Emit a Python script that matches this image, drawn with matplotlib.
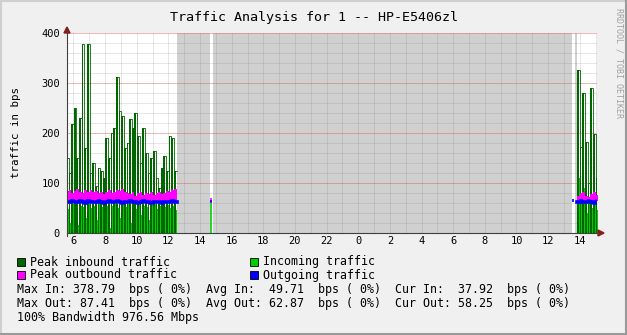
import numpy as np
import matplotlib

matplotlib.use("Agg")
import matplotlib.pyplot as plt
from matplotlib.patches import Polygon, Rectangle

W, H = 627, 335
step = 1 / 6  # 10 minute samples, x axis in hours since midnight of day 1

# first block of samples (day 1, morning)
left_start = 5.52
peak_in_left = [150, 120, 218, 250, 150, 230, 378, 170, 379, 120, 140, 95, 130, 125,
                110, 190, 150, 200, 210, 312, 245, 235, 170, 180, 228, 210, 240, 195,
                140, 210, 160, 120, 150, 165, 110, 90, 130, 155, 125, 195, 190, 125]
incoming_left = [48, 20, 58, 54, 15, 55, 52, 30, 58, 50, 54, 25, 60, 52, 40, 55, 10,
                 54, 58, 50, 30, 56, 52, 58, 20, 54, 48, 56, 35, 54, 52, 25, 56, 58,
                 48, 54, 30, 52, 56, 50, 54, 46]
peak_out_left = [84, 87, 80, 85, 88, 83, 80, 86, 83, 87, 82, 85, 80, 83, 78, 83, 86,
                 80, 83, 87, 85, 88, 82, 80, 78, 83, 74, 80, 83, 76, 80, 78, 83, 76,
                 80, 83, 78, 80, 85, 83, 87, 88]
outgoing_left = [63, 62, 64, 63, 62, 64, 63, 61, 64, 63, 62, 63, 64, 62, 60, 63, 64,
                 62, 63, 64, 62, 60, 62, 63, 64, 62, 63, 61, 62, 64, 63, 62, 60, 62,
                 63, 62, 61, 63, 62, 63, 64, 62]

# lone samples inside the unknown stretch
spot_times = [14.63, 37.51]
spot_incoming = [60, 0]
spot_peak_out = [70, 66]
spot_outgoing = [63, 66]

# last block (day 2, afternoon)
right_start = 37.83
peak_in_right = [326, 172, 280, 182, 100, 290, 198, 110]
incoming_right = [110, 60, 90, 40, 70, 50, 80, 45]
peak_out_right = [74, 80, 82, 75, 72, 78, 82, 76]
outgoing_right = [62, 64, 63, 62, 64, 63, 60, 64]

tick_hours = list(range(6, 39, 2))

c_peak_in = "#006600"
c_in = "#00cc00"
c_peak_out = "#ff00ff"
c_out = "#0000ff"
mono = "DejaVu Sans Mono"


def px(x, y):
    return (x / W, 1 - y / H)


fig = plt.figure(figsize=(W / 100, H / 100), dpi=100, facecolor="#f0f0f0")
ax = fig.add_axes([67 / W, 1 - 233 / H, 530 / W, 200 / H])
ax.set_facecolor("white")
ax.set_xlim(5.59, 39.09)
ax.set_ylim(0, 400)


def draw_block(t0, pin, inc, pout, out):
    t = t0 + step * np.arange(len(pin) + 1)
    ext = lambda a: np.append(a, a[-1])
    ax.fill_between(t, 0, ext(inc), step="post", color=c_in, lw=0, zorder=2)
    ax.bar(t[:-1], pin, width=step * 0.65, align="edge", color=c_peak_in, lw=0, zorder=3)
    ax.step(t, ext(pin), where="post", color=c_peak_in, lw=0.6, zorder=3)
    ax.fill_between(t, ext(out), ext(pout), step="post", color=c_peak_out, lw=0, zorder=4)
    ax.step(t, ext(out), where="post", color=c_out, lw=2.6, zorder=5)


draw_block(left_start, peak_in_left, incoming_left, peak_out_left, outgoing_left)
draw_block(right_start, peak_in_right, incoming_right, peak_out_right, outgoing_right)

# lone samples show as thin strokes only
for i, ts in enumerate(spot_times):
    tc = ts + step / 2
    if spot_incoming[i] > 0:
        ax.vlines(tc, 0, spot_incoming[i], color=c_in, lw=1.2, zorder=2)
    ax.vlines(tc, spot_outgoing[i], spot_peak_out[i], color=c_peak_out, lw=1.2, zorder=4)
    ax.vlines(tc, spot_outgoing[i] - 3, spot_outgoing[i] + 3, color=c_out, lw=1.2, zorder=5)

# unknown data shaded grey, taken from the gaps between the blocks
left_end = left_start + step * len(peak_in_left)
gaps = [(left_end, spot_times[0]),
        (spot_times[0] + step, spot_times[1]),
        (spot_times[1] + step, right_start)]
for a, b in gaps:
    ax.axvspan(a, b, color="#d0d0d0", lw=0, zorder=0.5)

# grid
for h in range(6, 40):
    ax.axvline(h, color=(0.4, 0.4, 0.4, 0.16), lw=0.7, zorder=1)
for v in range(20, 401, 20):
    if v % 100:
        ax.axhline(v, color=(0.4, 0.4, 0.4, 0.16), lw=0.7, zorder=1)
    else:
        ax.axhline(v, color=(0.85, 0.3, 0.3, 0.4), lw=0.7, zorder=1)

for s in ax.spines.values():
    s.set_visible(False)
ax.set_xticks(tick_hours)
ax.set_xticklabels([str(h % 24) for h in tick_hours], fontfamily=mono, fontsize=7.5)
ax.set_yticks([0, 100, 200, 300, 400])
ax.set_yticklabels(["0", "100", "200", "300", "400"], fontfamily=mono, fontsize=7.5)
ax.tick_params(length=0)
ax.tick_params(axis="y", pad=5)
ax.tick_params(axis="x", pad=2.5)

# axis lines with arrows
fig.add_artist(plt.Line2D([67 / W, 598 / W], [1 - 233 / H] * 2, color="#404040", lw=0.8))
fig.add_artist(plt.Line2D([67 / W] * 2, [1 - 236 / H, 1 - 29 / H], color="#404040", lw=0.8))
fig.add_artist(Polygon([px(598, 230), px(604, 233), px(598, 236)], closed=True,
                       transform=fig.transFigure, color="#8b1a1a"))
fig.add_artist(Polygon([px(64, 33), px(67, 27), px(70, 33)], closed=True,
                       transform=fig.transFigure, color="#8b1a1a"))

# frame
fig.add_artist(plt.Line2D([0, 1], [1 - 0.5 / H] * 2, color="#cfcfcf", lw=1.5))
fig.add_artist(plt.Line2D([0.5 / W] * 2, [0, 1], color="#cfcfcf", lw=1.5))
fig.add_artist(plt.Line2D([0, 1], [1 / H] * 2, color="#9a9a9a", lw=1.5))
fig.add_artist(plt.Line2D([1 - 1 / W] * 2, [0, 1], color="#9a9a9a", lw=1.5))

fig.text(*px(314, 17), "Traffic Analysis for 1 -- HP-E5406zl", ha="center", va="center",
         fontfamily=mono, fontsize=9.6)
fig.text(*px(16, 133), "traffic in bps", ha="center", va="center", rotation=90,
         fontfamily=mono, fontsize=7.8)
fig.text(*px(619, 8), "RRDTOOL / TOBI OETIKER", ha="center", va="top", rotation=270,
         fontfamily=mono, fontsize=6, color="#a0a0a0")

legend_items = [("Peak inbound traffic", c_peak_in, 17, 262),
                ("Incoming traffic", c_in, 250, 262),
                ("Peak outbound traffic", c_peak_out, 17, 275),
                ("Outgoing traffic", c_out, 250, 275)]
for label, col, x0, y0 in legend_items:
    fig.add_artist(Rectangle(px(x0, y0 + 4), 8 / W, 8 / H, transform=fig.transFigure,
                             facecolor=col, edgecolor="black", lw=0.6))
    fig.text(*px(x0 + 13, y0), label, va="center", fontfamily=mono, fontsize=8.4)

stats = ["Max In: 378.79  bps ( 0%)  Avg In:  49.71  bps ( 0%)  Cur In:  37.92  bps ( 0%)",
         "Max Out: 87.41  bps ( 0%)  Avg Out: 62.87  bps ( 0%)  Cur Out: 58.25  bps ( 0%)",
         "100% Bandwidth 976.56 Mbps"]
for i, line in enumerate(stats):
    fig.text(*px(17, 289 + 14 * i), line, va="center", fontfamily=mono, fontsize=8.4)

fig.savefig("out.png", dpi=100, facecolor=fig.get_facecolor())
